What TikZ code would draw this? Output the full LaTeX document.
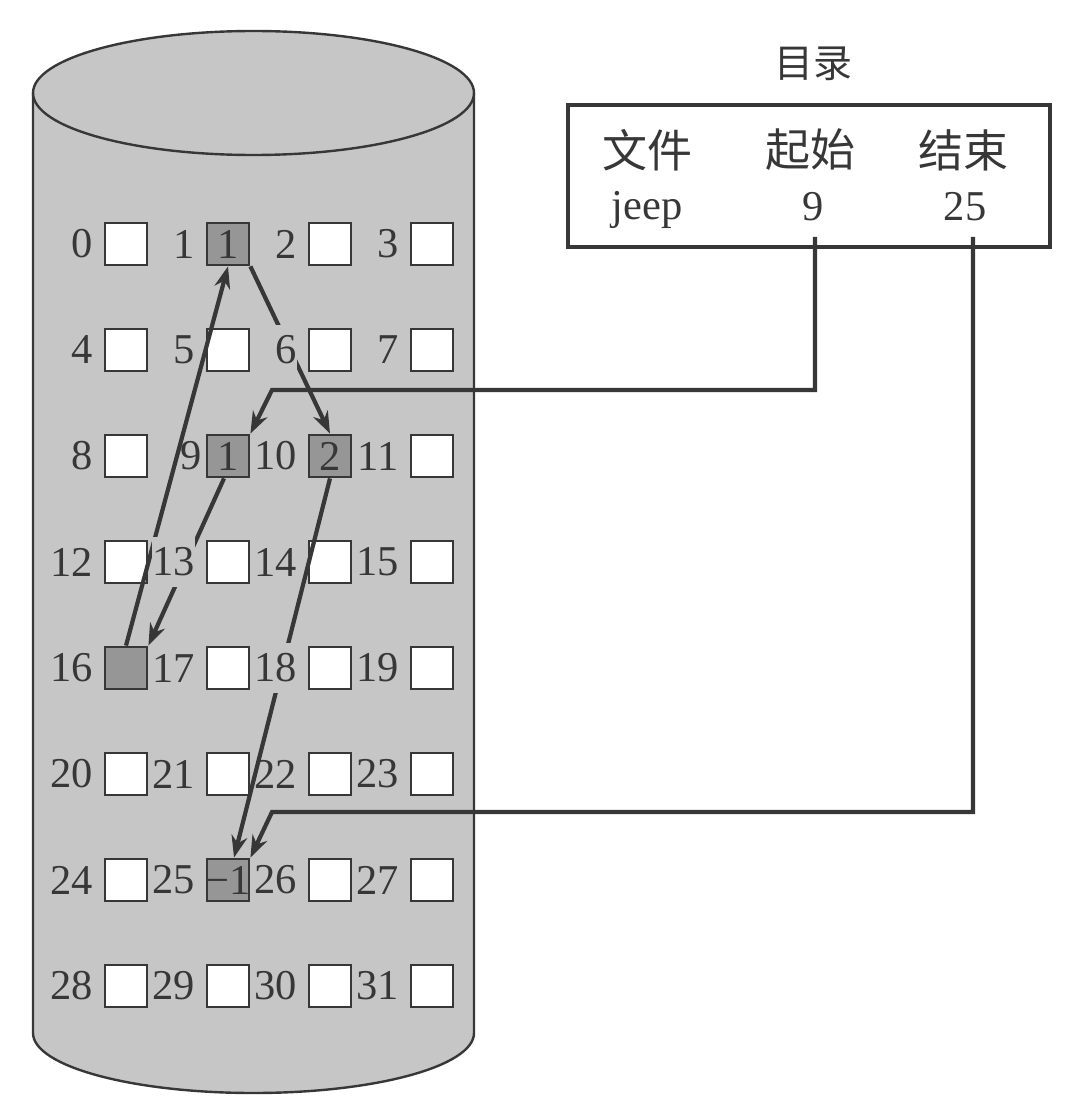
\documentclass[tikz,border=0pt]{standalone}
\usepackage{fontspec}
\setmainfont{Liberation Serif}
\newfontfamily\cjkfont{Noto Sans CJK SC}
\usetikzlibrary{arrows.meta,calc,positioning}
\definecolor{cylgray}{RGB}{198,198,198}
\definecolor{blkgray}{RGB}{150,150,150}
\definecolor{ink}{RGB}{55,55,55}
\newcommand\mynum{\fontsize{42.5}{48}\selectfont}
\newcommand\myhead{\cjkfont\fontsize{45}{52}\selectfont}
\newcommand\mytitle{\cjkfont\fontsize{39}{44}\selectfont}
\begin{document}
\begin{tikzpicture}[x=1pt,y=-1pt,
  blk/.style={draw=ink, line width=2.8pt, minimum size=42pt, inner sep=0pt, font=\mynum, text=ink},
  lab/.style={inner xsep=0.5pt, inner ysep=0pt, text=ink, font=\mynum},
  cut/.style={lab, fill=cylgray, minimum height=50pt},
  arr/.style={draw=ink, line width=4.2pt, -{Stealth[length=22pt,width=16pt]}},
  cylline/.style={draw=ink, line width=2.4pt},
  txt/.style={text=ink, font=\mynum},
]
\useasboundingbox (0,0) rectangle (1068,1110);

% cylinder
\fill[cylgray] (33,93) -- (33,1033) arc[start angle=180,end angle=360,x radius=220.5pt,y radius=60pt]
  -- (474,93) arc[start angle=0,end angle=180,x radius=220.5pt,y radius=62pt] -- cycle;
\draw[cylline] (33,93) -- (33,1033) arc[start angle=180,end angle=360,x radius=220.5pt,y radius=60pt] -- (474,93);
\draw[cylline] (253.5,93) ellipse[x radius=220.5pt,y radius=62pt];

% blocks
\foreach \i/\t/\f in {0//white,1/1/blkgray,2//white,3//white,
  4//white,5//white,6//white,7//white,
  8//white,9/1/blkgray,10/2/blkgray,11//white,
  12//white,13//white,14//white,15//white,
  16//blkgray,17//white,18//white,19//white,
  20//white,21//white,22//white,23//white,
  24//white,25/{\makebox[0pt]{−1}}/blkgray,26//white,27//white,
  28//white,29//white,30//white,31//white}{
  \pgfmathtruncatemacro\r{div(\i,4)}
  \pgfmathtruncatemacro\c{mod(\i,4)}
  \pgfmathsetmacro\xx{126+\c*102}
  \pgfmathsetmacro\yy{244+\r*106}
  \node[blk, fill=\f] (b\i) at (\xx,\yy) {\t};
}

% chain arrows
\draw[arr] (b1.south east) -- (b10.north);
\draw[arr] (b10.south) -- ($(b25.north)+(6,0)$);
\draw[arr] ($(b9.south)+(-4,0)$) -- (b16.north east);
\draw[arr] (b16.north) -- (b1.south);

% block labels
\foreach \i in {0,1,2,3,4,5,7,8,10,11,12,14,15,16,17,19,20,21,22,23,24,25,26,27,28,29,30,31}{
  \node[lab, left=10pt of b\i] (l\i) {\i};
}
\node[lab, left=3pt of b9] (l9) {9};
\foreach \i in {6,13,18}{
  \node[cut, left=10pt of b\i] (l\i) {\i};
}

% directory
\node[text=ink, font=\mytitle] (title) at (813,64) {目录};
\node[draw=ink, line width=3.2pt, minimum width=482pt, minimum height=142pt] (dir) at (809,176) {};
\node[text=ink, font=\myhead] (hfile) at (647,150) {文件};
\node[text=ink, font=\myhead] (hstart) at (810,150) {起始};
\node[text=ink, font=\myhead] (hend) at (963,150) {结束};
\node[txt] (njeep) at (647,210) {jeep};
\node[txt] (n9) at (813,207) {9};
\node[txt] (n25) at (965,207) {25};

% directory connectors
\coordinate (k1) at (272,390);
\coordinate (k2) at (272,812);
\draw[arr, shorten <=12pt] ($(n9.south)+(2,0)$) |- (k1) -- (b9.north east);
\draw[arr, shorten <=12pt] ($(n25.south)+(8,0)$) |- (k2) -- (b25.north east);
\end{tikzpicture}
\end{document}
